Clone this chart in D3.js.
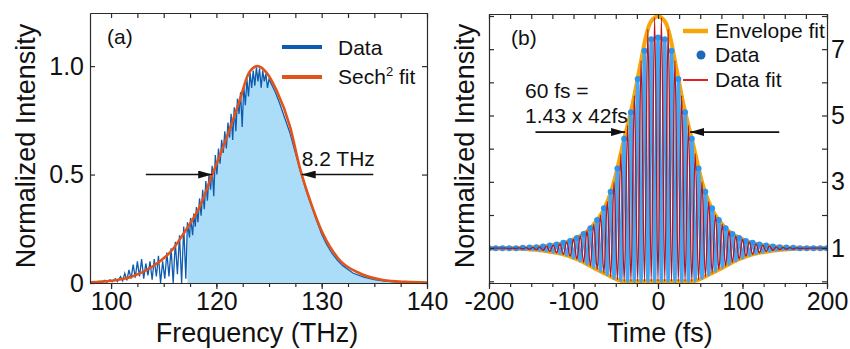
<!DOCTYPE html>
<html>
<head>
<meta charset="utf-8">
<script src="https://cdn.jsdelivr.net/npm/d3@7"></script>
<style>
    html, body { margin: 0; padding: 0; background: #fff; }
    svg { display: block; font-family: "Liberation Sans", Arial, Helvetica, sans-serif; }
    .axis path, .axis line { stroke: #2b2b2b; stroke-width: 1.2; }
    .axis text { font-size: 25px; fill: #111; font-family: "Liberation Sans", Arial, sans-serif; }
    .title { font-size: 27px; fill: #111; }
    .note { font-size: 21px; fill: #111; }
</style>
</head>
<body>
<svg id="chart" width="850" height="349"></svg>
<script>
// ---- panel (a): spectrum ----
const freqDomain = [108, 140];
const freqTicks = [110, 120, 130, 140];
const freqTickLabels = ['100', '120', '130', '140'];
const intensityTicks = [0, 0.5, 1.0];
const intensityTickLabels = ['0', '0.5', '1.0'];

// measured spectrum [THz, normalized]
const spectrum = [
    [108.6, 0.0], [108.9, 0.008], [109.1, 0.003], [109.4, 0.012], [109.6, 0.004], [109.9, 0.015],
    [110.1, 0.005], [110.4, 0.02], [110.6, 0.007], [110.9, 0.03], [111.1, 0.01], [111.3, 0.045],
    [111.5, 0.012], [111.7, 0.06], [111.9, 0.02], [112.1, 0.085], [112.3, 0.025], [112.5, 0.1],
    [112.7, 0.03], [112.9, 0.11], [113.1, 0.02], [113.3, 0.09], [113.5, 0.035], [113.7, 0.1],
    [113.9, 0.015], [114.1, 0.11], [114.3, 0.03], [114.5, 0.125], [114.7, 0.0], [114.9, 0.1],
    [115.1, 0.02], [115.3, 0.14], [115.5, 0.03], [115.7, 0.16], [115.9, 0.0], [116.1, 0.19],
    [116.3, 0.04], [116.5, 0.22], [116.7, 0.0], [116.9, 0.26], [117.1, 0.02],
    [117.25, 0.28], [117.45, 0.21], [117.55, 0.3], [117.75, 0.22], [117.85, 0.32], [118.0, 0.26],
    [118.1, 0.35], [118.25, 0.28], [118.4, 0.39], [118.55, 0.31], [118.7, 0.43], [118.85, 0.34],
    [119.0, 0.47], [119.15, 0.38], [119.3, 0.5], [119.45, 0.43], [119.6, 0.54], [119.75, 0.4],
    [119.9, 0.59], [120.05, 0.5], [120.2, 0.62], [120.35, 0.55], [120.5, 0.66], [120.65, 0.6],
    [120.8, 0.7], [120.95, 0.62], [121.1, 0.74], [121.25, 0.67], [121.4, 0.78], [121.55, 0.66],
    [121.7, 0.81], [121.85, 0.7], [122.0, 0.85], [122.15, 0.78], [122.3, 0.88], [122.45, 0.72],
    [122.6, 0.91], [122.75, 0.82], [122.9, 0.94], [123.05, 0.86], [123.2, 0.97], [123.35, 0.9],
    [123.5, 0.98], [123.65, 0.91], [123.8, 0.995], [123.95, 0.93], [124.1, 0.99], [124.25, 0.9],
    [124.4, 0.98], [124.55, 0.93], [124.7, 0.965], [124.85, 0.9], [125.0, 0.94], [125.3, 0.91],
    [125.6, 0.88], [126.0, 0.83], [126.5, 0.76], [127.0, 0.69], [127.5, 0.6], [128.0, 0.51],
    [128.5, 0.43], [129.0, 0.36], [129.5, 0.29], [130.0, 0.225], [130.5, 0.175], [131.0, 0.135],
    [131.5, 0.105], [132.0, 0.08], [133.0, 0.045], [134.0, 0.027], [135.0, 0.016], [136.0, 0.009],
    [137.0, 0.005], [138.0, 0.003], [140.0, 0.001],
];
const fillStart = 117.2;

// sech^2 fit
const sechFit = [
    [108, 0.003], [110, 0.01], [112, 0.03], [113.9, 0.075], [115.8, 0.152], [117.1, 0.244],
    [118.4, 0.35], [119.65, 0.505], [120.9, 0.66], [122.2, 0.84], [123.1, 0.97], [123.9, 1.0],
    [124.7, 0.974], [125.7, 0.89], [127.0, 0.72], [127.9, 0.536], [128.9, 0.38], [130.1, 0.229],
    [131.7, 0.106], [133.6, 0.045], [135.8, 0.014], [138, 0.005], [140, 0.002],
];

// ---- panel (b): interferometric autocorrelation ----
const timeTicks = [-200, -100, 0, 100, 200];
const acRightLabels = [1, 3, 5, 7];

const acTime = [
    -200, -196, -192, -188, -184, -180, -176, -172, -168, -164, -160, -156, -152, -148, -144, -140,
    -136, -132, -128, -124, -120, -116, -112, -108, -104, -100, -96, -92, -88, -84, -80, -76, -72,
    -68, -64, -60, -56, -52, -48, -44, -40, -36, -32, -28, -24, -20, -16, -12, -8, -4, 0,
    4, 8, 12, 16, 20, 24, 28, 32, 36, 40, 44, 48, 52, 56, 60, 64, 68, 72, 76, 80, 84, 88, 92, 96,
    100, 104, 108, 112, 116, 120, 124, 128, 132, 136, 140, 144, 148, 152, 156, 160, 164, 168, 172,
    176, 180, 184, 188, 192, 196, 200,
];
const acData = [
    1.0, 1.0, 1.0, 1.0, 1.0, 1.0, 1.0, 0.99, 1.0, 0.98, 1.01, 0.97, 1.02, 0.96, 1.03, 0.94,
    1.05, 0.91, 1.08, 0.88, 1.11, 0.84, 1.16, 0.78, 1.22, 0.71, 1.31, 0.62, 1.43, 0.52, 1.6, 0.42, 1.85,
    0.31, 2.2, 0.2, 2.7, 0.09, 3.4, 0.02, 4.3, 0, 5.1, 0, 6.1, 0, 6.95, 0, 7.3, 0, 7.35,
    0, 7.3, 0, 6.95, 0, 6.1, 0, 5.1, 0, 4.3, 0.02, 3.4, 0.09, 2.7, 0.2, 2.2, 0.31, 1.85, 0.42, 1.6, 0.52, 1.43, 0.62, 1.31,
    0.71, 1.22, 0.78, 1.16, 0.84, 1.11, 0.88, 1.08, 0.91, 1.05, 0.94, 1.03, 0.96, 1.02, 0.97, 1.01, 0.98, 1.0, 0.99,
    1.0, 1.0, 1.0, 1.0, 1.0, 1.0, 1.0,
];
const acFit = [
    1.0, 1.0, 1.0, 1.0, 1.0, 1.0, 0.99, 1.0, 0.99, 1.01, 0.98, 1.015, 0.97, 1.025, 0.95, 1.04,
    0.93, 1.06, 0.9, 1.09, 0.86, 1.13, 0.81, 1.19, 0.75, 1.27, 0.67, 1.37, 0.57, 1.52, 0.46, 1.72, 0.36,
    2.0, 0.25, 2.4, 0.14, 3.0, 0.05, 3.85, 0, 4.7, 0, 5.6, 0, 6.65, 0, 7.6, 0, 7.95, 0,
    7.95, 0, 7.6, 0, 6.65, 0, 5.6, 0, 4.7, 0, 3.85, 0.05, 3.0, 0.14, 2.4, 0.25, 2.0, 0.36, 1.72, 0.46, 1.52, 0.57, 1.37, 0.67,
    1.27, 0.75, 1.19, 0.81, 1.13, 0.86, 1.09, 0.9, 1.06, 0.93, 1.04, 0.95, 1.025, 0.97, 1.015, 0.98, 1.01, 0.99, 1.0,
    0.99, 1.0, 1.0, 1.0, 1.0, 1.0, 1.0,
];

const envTime = [
    -200, -180, -160, -150, -140, -130, -120, -110, -100, -90, -80, -75, -70, -65, -60, -55, -50,
    -45, -40, -35, -30, -25, -20, -15, -10, -5, 0, 5, 10, 15, 20, 25, 30, 35, 40, 45, 50, 55, 60,
    65, 70, 75, 80, 90, 100, 110, 120, 130, 140, 150, 160, 180, 200,
];
const envUpper = [
    1.0, 1.0, 1.01, 1.02, 1.04, 1.07, 1.11, 1.17, 1.27, 1.4, 1.6, 1.75, 1.92, 2.12, 2.4, 2.75, 3.2,
    3.75, 4.3, 4.8, 5.35, 6.0, 6.65, 7.3, 7.75, 7.93, 8.0, 7.93, 7.75, 7.3, 6.65, 6.0, 5.35, 4.8, 4.3, 3.75, 3.2, 2.75, 2.4,
    2.12, 1.92, 1.75, 1.6, 1.4, 1.27, 1.17, 1.11, 1.07, 1.04, 1.02, 1.01, 1.0, 1.0,
];
const envLower = [
    1.0, 1.0, 0.98, 0.96, 0.94, 0.9, 0.86, 0.8, 0.71, 0.6, 0.46, 0.39, 0.33, 0.26, 0.2, 0.13, 0.07,
    0.02, 0, 0, 0, 0, 0, 0, 0, 0, 0, 0, 0, 0, 0, 0, 0, 0, 0, 0.02, 0.07, 0.13, 0.2,
    0.26, 0.33, 0.39, 0.46, 0.6, 0.71, 0.8, 0.86, 0.9, 0.94, 0.96, 0.98, 1.0, 1.0,
];

const svg = d3.select('#chart');
const defs = svg.append('defs');

defs.append('marker')
    .attr('id', 'head')
    .attr('viewBox', '0 0 14 8')
    .attr('refX', 14).attr('refY', 4)
    .attr('markerWidth', 14).attr('markerHeight', 8)
    .attr('markerUnits', 'userSpaceOnUse')
    .attr('orient', 'auto')
    .append('path')
    .attr('d', 'M0,0L14,4L0,8Z')
    .attr('fill', '#111');

const clip = (id, b) => {
    defs.append('clipPath').attr('id', id)
        .append('rect')
        .attr('x', b.left).attr('y', b.top)
        .attr('width', b.right - b.left).attr('height', b.bottom - b.top);
};

const arrow = (g, x1, y, x2) => {
    g.append('line')
        .attr('x1', x1).attr('y1', y).attr('x2', x2).attr('y2', y)
        .attr('stroke', '#111').attr('stroke-width', 1.6)
        .attr('marker-end', 'url(#head)');
};

// =========== panel (a) ===========
const a = { left: 90, right: 427, top: 13, bottom: 283 };
clip('clipA', a);
const xA = d3.scaleLinear().domain(freqDomain).range([a.left, a.right]);
const yA = d3.scaleLinear().domain([0, 1.245]).range([a.bottom, a.top]);
const freqMinor = d3.range(110, 140.01, 2.5);

const gA = svg.append('g');
const plotA = gA.append('g').attr('clip-path', 'url(#clipA)');

plotA.append('path')
    .datum(spectrum.filter(d => d[0] >= fillStart))
    .attr('fill', '#abdcf8')
    .attr('d', d3.area().x(d => xA(d[0])).y0(yA(0)).y1(d => yA(d[1])));

plotA.append('path')
    .datum(spectrum)
    .attr('fill', 'none')
    .attr('stroke', '#0d5cb0')
    .attr('stroke-width', 1.3)
    .attr('d', d3.line().x(d => xA(d[0])).y(d => yA(d[1])));

plotA.append('path')
    .datum(sechFit)
    .attr('fill', 'none')
    .attr('stroke', '#e2531a')
    .attr('stroke-width', 2.6)
    .attr('d', d3.line().x(d => xA(d[0])).y(d => yA(d[1])).curve(d3.curveMonotoneX));

// axes (a)
gA.append('g').attr('class', 'axis')
    .attr('transform', `translate(0,${a.bottom})`)
    .call(d3.axisBottom(xA).tickValues(freqMinor).tickFormat('').tickSize(4).tickSizeOuter(0));
gA.append('g').attr('class', 'axis')
    .attr('transform', `translate(0,${a.bottom})`)
    .call(d3.axisBottom(xA).tickValues(freqTicks).tickFormat((d, i) => freqTickLabels[i])
        .tickSize(6).tickSizeOuter(0).tickPadding(3));
gA.append('g').attr('class', 'axis')
    .attr('transform', `translate(0,${a.top})`)
    .call(d3.axisTop(xA).tickValues(freqMinor).tickFormat('').tickSize(-5).tickSizeOuter(0));
gA.append('g').attr('class', 'axis')
    .attr('transform', `translate(${a.left},0)`)
    .call(d3.axisLeft(yA).tickValues(intensityTicks).tickFormat((d, i) => intensityTickLabels[i])
        .tickSize(-5).tickSizeOuter(0).tickPadding(6));
gA.append('g').attr('class', 'axis')
    .attr('transform', `translate(${a.right},0)`)
    .call(d3.axisRight(yA).tickValues(intensityTicks).tickFormat('').tickSize(-5).tickSizeOuter(0));

gA.append('text').attr('class', 'title')
    .attr('transform', `translate(35,146) rotate(-90)`)
    .attr('text-anchor', 'middle')
    .text('Normalized Intensity');
gA.append('text').attr('class', 'title')
    .attr('x', 257).attr('y', 342)
    .attr('text-anchor', 'middle')
    .text('Frequency (THz)');

gA.append('text').attr('class', 'note').attr('x', 107).attr('y', 44).text('(a)');

// legend (a)
gA.append('line').attr('x1', 282).attr('x2', 322).attr('y1', 47).attr('y2', 47)
    .attr('stroke', '#0d5cb0').attr('stroke-width', 4);
gA.append('text').attr('class', 'note').attr('x', 338).attr('y', 55).text('Data');
gA.append('line').attr('x1', 282).attr('x2', 322).attr('y1', 77).attr('y2', 77)
    .attr('stroke', '#e2531a').attr('stroke-width', 4);
const sechLabel = gA.append('text').attr('class', 'note').attr('x', 338).attr('y', 84);
sechLabel.append('tspan').text('Sech');
sechLabel.append('tspan').attr('font-size', 13).attr('dy', -8).text('2');
sechLabel.append('tspan').attr('dy', 8).text(' fit');

// FWHM annotation (a)
arrow(gA, xA(113.3), yA(0.5), xA(119.6));
arrow(gA, xA(134.9), yA(0.5), xA(128.1));
gA.append('text').attr('class', 'note').attr('x', xA(128.1)).attr('y', 166).text('8.2 THz');

// =========== panel (b) ===========
const b = { left: 489, right: 827, top: 14, bottom: 283 };
clip('clipB', b);
const xB = d3.scaleLinear().domain([-200, 200]).range([b.left, b.right]);
const yB = d3.scaleLinear().domain([-0.05, 8.06]).range([b.bottom, b.top]);
const timeMinor = d3.range(-200, 200.01, 25);
const acTicks = d3.range(0, 8.01, 1);

const gB = svg.append('g');
const plotB = gB.append('g').attr('clip-path', 'url(#clipB)');

const envLine = vals => d3.line()
    .x((d, i) => xB(envTime[i]))
    .y(d => yB(d))
    .curve(d3.curveMonotoneX)(vals);

plotB.append('path').attr('d', envLine(envUpper))
    .attr('fill', 'none').attr('stroke', '#f6a50a').attr('stroke-width', 4);
plotB.append('path').attr('d', envLine(envLower))
    .attr('fill', 'none').attr('stroke', '#f6a50a').attr('stroke-width', 4);

const acLine = d3.line()
    .x((d, i) => xB(acTime[i]))
    .y(d => yB(d))
    .curve(d3.curveMonotoneX);

plotB.append('path').datum(acData)
    .attr('fill', 'none')
    .attr('stroke', '#45a6f2')
    .attr('stroke-width', 3.2)
    .attr('d', acLine);

plotB.append('g').selectAll('circle')
    .data(acData.map((v, i) => [acTime[i], v]).filter((d, i) => i % 2 === 0))
    .join('circle')
    .attr('cx', d => xB(d[0]))
    .attr('cy', d => yB(d[1]))
    .attr('r', 3)
    .attr('fill', '#2a94ee');

plotB.append('path').datum(acFit)
    .attr('fill', 'none')
    .attr('stroke', '#b81420')
    .attr('stroke-width', 1.3)
    .attr('d', acLine);

// axes (b)
gB.append('g').attr('class', 'axis')
    .attr('transform', `translate(0,${b.bottom})`)
    .call(d3.axisBottom(xB).tickValues(timeMinor).tickFormat('').tickSize(4).tickSizeOuter(0));
gB.append('g').attr('class', 'axis')
    .attr('transform', `translate(0,${b.bottom})`)
    .call(d3.axisBottom(xB).tickValues(timeTicks).tickFormat(d => String(d))
        .tickSize(6).tickSizeOuter(0).tickPadding(3));
gB.append('g').attr('class', 'axis')
    .attr('transform', `translate(0,${b.top})`)
    .call(d3.axisTop(xB).tickValues(timeMinor).tickFormat('').tickSize(-5).tickSizeOuter(0));
gB.append('g').attr('class', 'axis')
    .attr('transform', `translate(${b.left},0)`)
    .call(d3.axisLeft(yB).tickValues(acTicks).tickFormat('').tickSize(-5).tickSizeOuter(0));
gB.append('g').attr('class', 'axis')
    .attr('transform', `translate(${b.right},0)`)
    .call(d3.axisRight(yB).tickValues(acTicks)
        .tickFormat(d => acRightLabels.includes(d) ? String(d) : '')
        .tickSize(-5).tickSizeOuter(0).tickPadding(4));

gB.append('text').attr('class', 'title')
    .attr('transform', `translate(474,146) rotate(-90)`)
    .attr('text-anchor', 'middle')
    .text('Normalized Intensity');
gB.append('text').attr('class', 'title')
    .attr('x', 660).attr('y', 342)
    .attr('text-anchor', 'middle')
    .text('Time (fs)');

gB.append('text').attr('class', 'note').attr('x', 511).attr('y', 45).text('(b)');

// legend (b)
gB.append('line').attr('x1', 683).attr('x2', 708).attr('y1', 31).attr('y2', 31)
    .attr('stroke', '#f6a50a').attr('stroke-width', 4.5);
gB.append('text').attr('class', 'note').attr('x', 715).attr('y', 38).text('Envelope fit');
gB.append('circle').attr('cx', 701).attr('cy', 55).attr('r', 4.5).attr('fill', '#1d6bb6');
gB.append('text').attr('class', 'note').attr('x', 715).attr('y', 62).text('Data');
gB.append('line').attr('x1', 683).attr('x2', 708).attr('y1', 80).attr('y2', 80)
    .attr('stroke', '#e3202a').attr('stroke-width', 2);
gB.append('text').attr('class', 'note').attr('x', 715).attr('y', 87).text('Data fit');

// pulse width annotation (b)
arrow(gB, xB(-145), yB(4.5), xB(-39));
arrow(gB, xB(143.5), yB(4.5), xB(38));
gB.append('text').attr('class', 'note').attr('x', 525).attr('y', 98).text('60 fs =');
gB.append('text').attr('class', 'note').attr('x', 525).attr('y', 123).text('1.43 x 42fs');
</script>
</body>
</html>
